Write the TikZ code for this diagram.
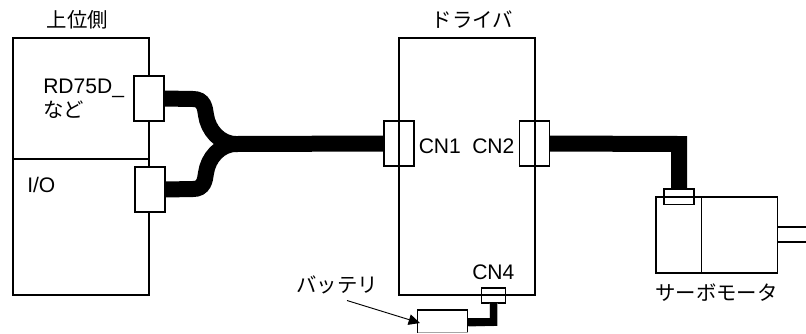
\documentclass[tikz,border=0pt]{standalone}
\usepackage{fontspec}
\setmainfont{Liberation Sans}
\newfontfamily\jpfont{Noto Sans CJK JP}
\usetikzlibrary{arrows.meta}
\tikzset{
  unit/.style={draw=black,line width=1pt,inner sep=0pt,outer sep=0pt,anchor=north west},
  plug/.style={draw=black,line width=1pt,inner sep=0pt,outer sep=0pt,anchor=north west},
  cable/.style={line width=12pt,black},
  thin cable/.style={line width=5.6pt,black},
  lbl/.style={inner sep=0pt,anchor=west,font=\fontsize{15.8}{16}\selectfont},
  jp/.style={inner sep=0pt,font=\fontsize{15.3}{16}\selectfont\jpfont},
}
\begin{document}
\begin{tikzpicture}[x=0.75pt,y=-0.75pt]
\useasboundingbox (0,0) rectangle (806,333);
\coordinate (joint) at (236,144);
\coordinate (cornerA) at (679,144);
% upper unit
\node[unit,minimum width=102pt,minimum height=192.75pt] (host) at (13,38) {};
\coordinate (hostdivL) at (13,159);
\coordinate (hostdivR) at (149,159);
\draw[line width=1pt] (hostdivL) -- (hostdivR);
% driver
\node[unit,minimum width=102pt,minimum height=192.75pt] (drv) at (399,38) {};
% motor
\node[unit,minimum width=91pt,minimum height=57pt] (motor) at (656,197) {};
\coordinate (motdivT) at (701.5,197);
\coordinate (motdivB) at (701.5,273);
\draw[line width=1pt] (motdivT) -- (motdivB);
\coordinate (shaftA) at (777.5,227);
\coordinate (shaftB) at (806,227);
\coordinate (shaftC) at (777.5,242);
\coordinate (shaftD) at (806,242);
\draw[line width=1pt] (shaftA) -- (shaftB) (shaftC) -- (shaftD);
% connectors
\node[plug,fill=white,minimum width=22.5pt,minimum height=33.75pt] (rd) at (134,76) {};
\node[plug,fill=white,minimum width=22.5pt,minimum height=33.75pt] (io) at (135,167) {};
\node[plug,minimum width=22.5pt,minimum height=33.75pt] (cn1) at (384,121) {};
\node[plug,minimum width=22.5pt,minimum height=33.75pt] (cn2) at (519.5,121) {};
\node[plug,minimum width=22.5pt,minimum height=11.5pt] (mp) at (664,189) {};
\node[plug,minimum width=18pt,minimum height=11.25pt] (cn4) at (481.5,288) {};
\node[anchor=north west,inner sep=0pt,outer sep=0pt,fill=white,minimum width=37.5pt,minimum height=16.9pt] (bat) at (417.5,310) {};
\draw[line width=1pt] (bat.south west) -- (bat.north west) -- (bat.north east) -- (bat.south east);
\draw[line width=0.7pt,black!35] (bat.south west) -- (bat.south east);
% cables
\draw[cable,line cap=butt] (rd.east) -- (193,99) .. controls (204,99) and (205,108) .. (206,115) .. controls (208,130) and (220,144) .. (joint);
\draw[cable,line cap=butt] (io.east) -- (193,189) .. controls (204,189) and (205,180) .. (206,173) .. controls (208,158) and (220,144) .. (joint);
\draw[cable] (joint) -- (cn1.west);
\draw[cable,line join=miter] (cn2.east) -- (cornerA) -- (mp.north-|cornerA);
\coordinate (batcorner) at (493.5,322);
\draw[gray,line width=6pt,line join=miter,shift={(0.7,0.7)}] (467.5,322) -- (batcorner) -- (cn4.south);
\draw[thin cable,line join=miter] (bat.east|-batcorner) -- (batcorner) -- (cn4.south);
% arrow
\node[jp,anchor=west] (batl) at (296,285) {バッテリ};
\coordinate (arrowstart) at (347,300.5);
\coordinate (arrowtip) at (420,323);
\draw[line width=0.7pt,-{Triangle[length=8.5pt,width=8pt]}] (arrowstart) -- (arrowtip);
% labels
\node[jp] (t1) at (77.5,20) {上位側};
\node[jp] (t2) at (472.5,20) {ドライバ};
\node[lbl] (l1) at (43,88) {RD75D\_};
\node[jp,anchor=west] (l2) at (43,110) {など};
\node[lbl] (l3) at (27,185) {I/O};
\node[lbl] (l4) at (418.5,146.5) {CN1};
\node[lbl] (l5) at (472,146.5) {CN2};
\node[lbl] (l6) at (472,272) {CN4};
\node[jp] (l7) at (716.5,293) {サーボモータ};
\end{tikzpicture}
\end{document}
